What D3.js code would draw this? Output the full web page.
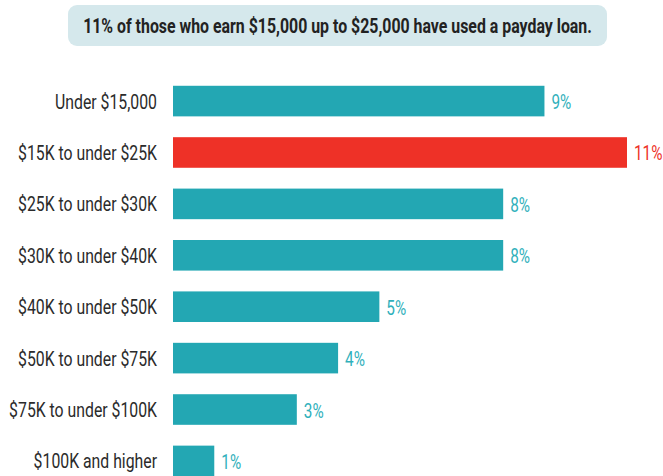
<!DOCTYPE html>
<html>
<head>
<meta charset="utf-8">
<script src="https://cdn.jsdelivr.net/npm/d3@7"></script>
<style>
  body{margin:0;background:#fff;}
  text{font-family:"Roboto","DejaVu Sans",sans-serif;}
</style>
</head>
<body>
<div id="chart"></div>
<script>
// data
var categories=["Under $15,000","$15K to under $25K","$25K to under $30K","$30K to under $40K",
    "$40K to under $50K","$50K to under $75K","$75K to under $100K","$100K and higher"];
var values=[9,11,8,8,5,4,3,1];
var highlight=["$15K to under $25K"];
var title="11% of those who earn $15,000 up to $25,000 have used a payday loan.";

var W=663,H=476;
var svg=d3.select("#chart").append("svg").attr("width",W).attr("height",H);

// title box
svg.append("rect").attr("x",68).attr("y",5).attr("width",539).attr("height",41)
    .attr("rx",9).attr("fill","#d5e8ec");
var tg=svg.append("g").attr("transform","translate(337.5,33)");
var t=tg.append("text").attr("text-anchor","middle")
    .attr("font-size",21).attr("font-weight","bold").attr("fill","#222").text(title);
var tk=509/t.node().getComputedTextLength();
t.attr("transform","scale("+tk+",1)");

var x=d3.scaleLinear().domain([0,11]).range([173,627]);
var y=d3.scaleBand().domain(categories).range([75.5,486.5]).paddingInner(0.405).paddingOuter(0.2);

var row=svg.selectAll("g.row").data(categories).enter().append("g").attr("class","row");

row.append("rect")
    .attr("x",x(0))
    .attr("y",function(d){return y(d);})
    .attr("height",y.bandwidth())
    .attr("width",function(d,i){return x(values[i])-x(0);})
    .attr("fill",function(d){return highlight.indexOf(d)>=0?"#ee3127":"#23a7b3";});

var labs=row.append("g")
    .attr("transform",function(d){return "translate(157,"+(y(d)+y.bandwidth()/2+7.5)+")";})
  .append("text")
    .attr("text-anchor","end")
    .attr("font-size",21)
    .attr("fill","#2b2b2b")
    .text(function(d){return d;});
// the reference font is condensed: squeeze labels horizontally
var lk=102/labs.filter(function(d,i){return i===0;}).node().getComputedTextLength();
labs.attr("transform","scale("+lk+",1)");

row.append("g")
    .attr("transform",function(d,i){return "translate("+(x(values[i])+7)+","+(y(d)+y.bandwidth()/2+8)+")";})
  .append("text")
    .attr("transform","scale("+(lk*0.97)+",1)")
    .attr("font-size",21)
    .attr("fill",function(d){return highlight.indexOf(d)>=0?"#ee3127":"#2fb0bb";})
    .text(function(d,i){return values[i]+"%";});
</script>
</body>
</html>
